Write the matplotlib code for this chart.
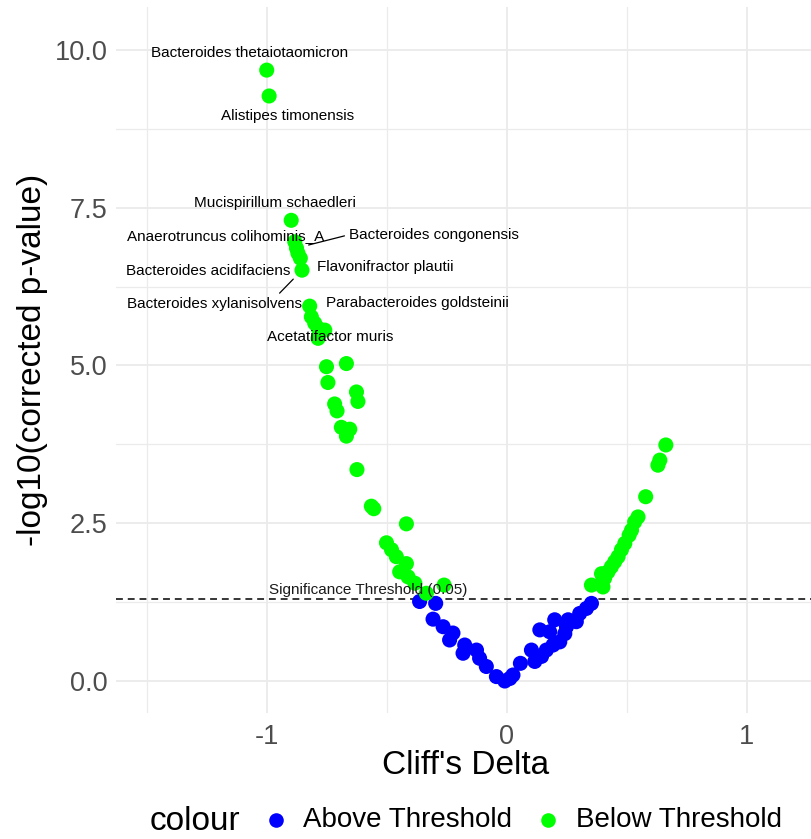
import matplotlib
matplotlib.use("Agg")
import matplotlib.pyplot as plt
from matplotlib.lines import Line2D
import numpy as np

plt.rcParams['font.family'] = ['Liberation Sans', 'DejaVu Sans']

# Cliff's delta effect sizes and -log10(corrected p-values), one entry per taxon
cliffs_delta = [
    -1.000, -0.990, -0.898, -0.883, -0.876, -0.870, -0.860, -0.853, -0.821, -0.814,
    -0.800, -0.786, -0.758, -0.786, -0.751, -0.668, -0.745, -0.626, -0.620, -0.717,
    -0.707, -0.689, -0.654, -0.668, -0.624, -0.564, -0.554, -0.418, -0.501, -0.480,
    -0.460, -0.418, -0.446, -0.411, -0.383, -0.335, -0.261,
    0.663, 0.638, 0.630, 0.579, 0.547, 0.533, 0.520, 0.510, 0.492, 0.478,
    0.464, 0.450, 0.436, 0.422, 0.395, 0.408, 0.395, 0.401, 0.353,
    -0.363, -0.296, -0.307, -0.265, -0.224, -0.238, -0.175, -0.182, -0.126, -0.113,
    -0.085, -0.043, -0.008, 0.013, 0.026, 0.057, 0.103, 0.117, 0.145, 0.138,
    0.179, 0.165, 0.200, 0.193, 0.221, 0.242, 0.256, 0.249, 0.290, 0.304,
    0.332, 0.353,
]
neg_log10_p = [
    9.68, 9.27, 7.30, 6.96, 6.86, 6.78, 6.70, 6.51, 5.94, 5.77,
    5.67, 5.59, 5.56, 5.43, 4.98, 5.03, 4.73, 4.58, 4.43, 4.39,
    4.28, 4.02, 3.99, 3.88, 3.35, 2.77, 2.73, 2.49, 2.19, 2.08,
    1.97, 1.86, 1.73, 1.65, 1.55, 1.39, 1.52,
    3.74, 3.50, 3.42, 2.92, 2.60, 2.52, 2.39, 2.31, 2.18, 2.08,
    1.97, 1.89, 1.81, 1.73, 1.70, 1.63, 1.55, 1.49, 1.52,
    1.26, 1.23, 0.98, 0.86, 0.76, 0.65, 0.57, 0.44, 0.49, 0.36,
    0.23, 0.07, 0.00, 0.04, 0.095, 0.28, 0.49, 0.31, 0.39, 0.81,
    0.78, 0.49, 0.97, 0.57, 0.62, 0.75, 0.97, 0.86, 0.94, 1.07,
    1.15, 1.23,
]

# Names for the ten most significant taxa (first ten entries above)
labeled_species = [
    "Bacteroides thetaiotaomicron",
    "Alistipes timonensis",
    "Mucispirillum schaedleri",
    "Anaerotruncus colihominis_A",
    "Bacteroides congonensis",
    "Flavonifractor plautii",
    "Bacteroides acidifaciens",
    "Bacteroides xylanisolvens",
    "Parabacteroides goldsteinii",
    "Acetatifactor muris",
]

alpha = 0.05
threshold = -np.log10(alpha)

# Repelled label placement (data coords) and optional leader segments
label_xy = [
    (-1.071, 9.95), (-0.9125, 8.95), (-0.967, 7.575), (-1.171, 7.05),
    (-0.305, 7.07), (-0.508, 6.56), (-1.242, 6.50), (-1.217, 5.975),
    (-0.372, 5.99), (-0.7375, 5.45),
]
label_segment = [None, None, None, None, (0.0, 0.5), None, None, (0.85, 1.0), None, None]

x = np.array(cliffs_delta)
y = np.array(neg_log10_p)
pvals = 10 ** (-y)
groups = np.where(pvals < alpha, "Below Threshold", "Above Threshold")
palette = {"Above Threshold": "#0000FF", "Below Threshold": "#00FF00"}

W, H = 812, 839
fig = plt.figure(figsize=(W / 100, H / 100), dpi=100)
ax = fig.add_axes([116 / W, 1 - 713 / H, (812 - 116) / W, (713 - 7) / H])

ax.set_xlim(-1.628, 1.272)
ax.set_ylim(-0.507, 10.68)

grid_col = "#EBEBEB"
ax.set_xticks([-1, 0, 1])
ax.set_xticklabels(["-1", "0", "1"])
ax.set_yticks([0, 2.5, 5, 7.5, 10])
ax.set_yticklabels(["0.0", "2.5", "5.0", "7.5", "10.0"])
ax.set_xticks([-1.5, -0.5, 0.5], minor=True)
ax.set_yticks([1.25, 3.75, 6.25, 8.75], minor=True)
ax.grid(which="major", color=grid_col, lw=1.3)
ax.grid(which="minor", color=grid_col, lw=0.9)
ax.set_axisbelow(True)
ax.tick_params(which="both", length=0)
ax.tick_params(axis="both", labelsize=19.5, labelcolor="#4D4D4D")
ax.tick_params(axis="y", pad=6)
ax.tick_params(axis="x", pad=8)
for s in ax.spines.values():
    s.set_visible(False)

for g in ["Above Threshold", "Below Threshold"]:
    m = groups == g
    ax.scatter(x[m], y[m], s=118, color=palette[g], edgecolors="none", zorder=3)

ax.axhline(threshold, color="black", lw=1.1, ls=(0, (4.5, 3.2)), zorder=2)
ax.text(-0.579, threshold + 0.14, "Significance Threshold (0.05)", fontsize=11,
        color="#1A1A1A", ha="center", va="center", zorder=5)

for i, name in enumerate(labeled_species):
    tx, ty = label_xy[i]
    seg = label_segment[i]
    if seg is None:
        ax.text(tx, ty, name, fontsize=11, ha="center", va="center", zorder=5)
    else:
        ax.annotate(name, xy=(x[i], y[i]), xytext=(tx, ty), fontsize=11,
                    ha="center", va="center", zorder=5,
                    arrowprops=dict(arrowstyle="-", color="black", lw=0.9,
                                    relpos=seg, shrinkA=1, shrinkB=9))

fig.text(466 / W, 1 - 766 / H, "Cliff's Delta", fontsize=24, ha="center", va="center")
fig.text(33 / W, 1 - 360 / H, "-log10(corrected p-value)", fontsize=24,
         rotation=90, ha="center", va="center")

# Bottom legend
ly = 1 - 820 / H
fig.text(150 / W, 1 - 822 / H, "colour", fontsize=24, ha="left", va="center")
for kx, tx, g in [(276, 303, "Above Threshold"), (548, 576, "Below Threshold")]:
    fig.add_artist(Line2D([kx / W], [ly], marker="o", ms=10.5, color=palette[g],
                          markeredgewidth=0, transform=fig.transFigure))
    fig.text(tx / W, ly, g, fontsize=20, ha="left", va="center")

fig.savefig("out.png", dpi=100)
